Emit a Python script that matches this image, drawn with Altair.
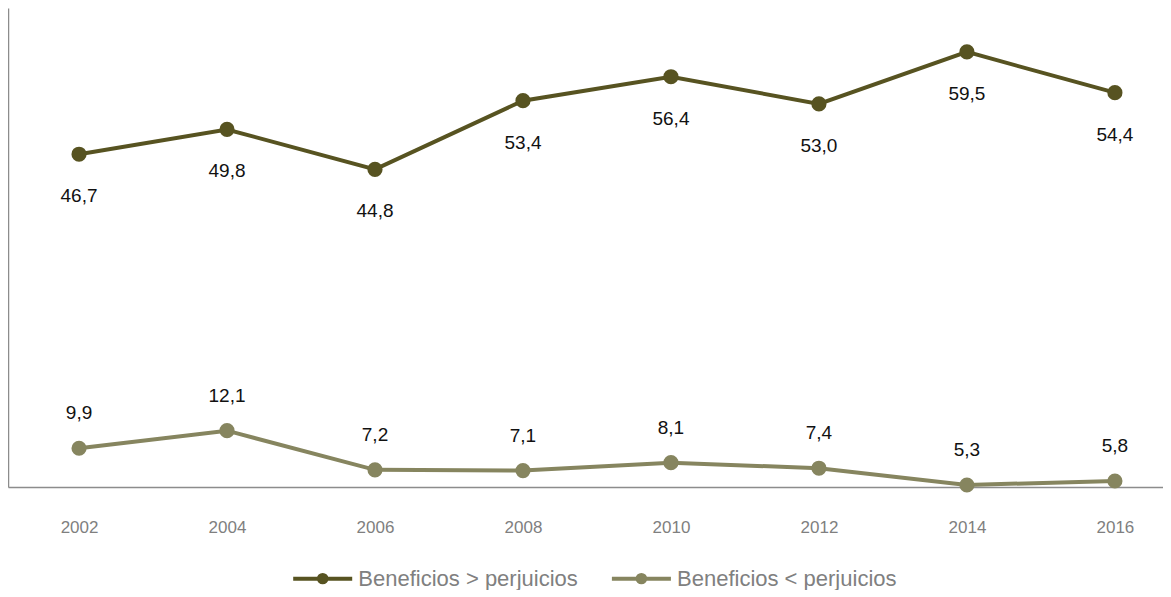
import altair as alt
import pandas as pd

years = [2002, 2004, 2006, 2008, 2010, 2012, 2014, 2016]
benef_mayor = [46.7, 49.8, 44.8, 53.4, 56.4, 53.0, 59.5, 54.4]
benef_menor = [9.9, 12.1, 7.2, 7.1, 8.1, 7.4, 5.3, 5.8]
series_names = ["Beneficios > perjuicios", "Beneficios < perjuicios"]
series_colors = ["#575321", "#86855f"]

df = pd.DataFrame({
    "year": years * 2,
    "value": benef_mayor + benef_menor,
    "serie": [series_names[0]] * len(years) + [series_names[1]] * len(years),
})

font = "Liberation Sans"

x = alt.X(
    "year:Q",
    scale=alt.Scale(domain=[2001.04, 2016.65], nice=False, zero=False),
    axis=alt.Axis(values=years, format="d", title=None, grid=False, ticks=False,
                  labelPadding=32, labelFontSize=17, labelColor="#7f7f7f",
                  labelFont=font, domainColor="#8c8c8c", domainWidth=1.5,
                  labelFlush=False),
)
y = alt.Y(
    "value:Q",
    scale=alt.Scale(domain=[5.05, 65], nice=False, zero=False),
    axis=alt.Axis(title=None, labels=False, ticks=False, grid=False,
                  domainColor="#8c8c8c", domainWidth=1.5),
)

legend_path = "M-3,0L3,0M-0.38,0A0.38,0.38,0,1,1,0.38,0A0.38,0.38,0,1,1,-0.38,0Z"
color = alt.Color(
    "serie:N",
    scale=alt.Scale(domain=series_names, range=series_colors),
    legend=alt.Legend(
        orient="none", legendX=302.7, legendY=558.5, direction="horizontal",
        title=None, symbolType=legend_path, symbolSize=387, symbolStrokeWidth=4,
        labelFontSize=22, labelColor="#808080", labelFont=font,
        labelOffset=23.6, columnPadding=24.7, labelLimit=400, padding=0,
    ),
)

base = alt.Chart(df).transform_calculate(
    label="replace(format(datum.value, '.1f'), '.', ',')"
)

lines = base.mark_line(strokeWidth=4).encode(x=x, y=y, color=color)
points = base.mark_circle(size=230, opacity=1).encode(x=x, y=y, color=color)

text_top = base.transform_filter(
    alt.datum.serie == series_names[0]
).mark_text(dy=42, fontSize=19, font=font, color="#111111", baseline="middle").encode(
    x=x, y=y, text="label:N"
)
text_bottom = base.transform_filter(
    alt.datum.serie == series_names[1]
).mark_text(dy=-35, fontSize=19, font=font, color="#111111", baseline="middle").encode(
    x=x, y=y, text="label:N"
)

chart = alt.layer(lines, points, text_top, text_bottom).properties(
    width=1155, height=479,
    padding={"left": 0, "top": 0, "right": 0, "bottom": -1},
).configure_view(stroke=None)

chart.save("out.html", embed_options={"renderer": "svg", "actions": False})
